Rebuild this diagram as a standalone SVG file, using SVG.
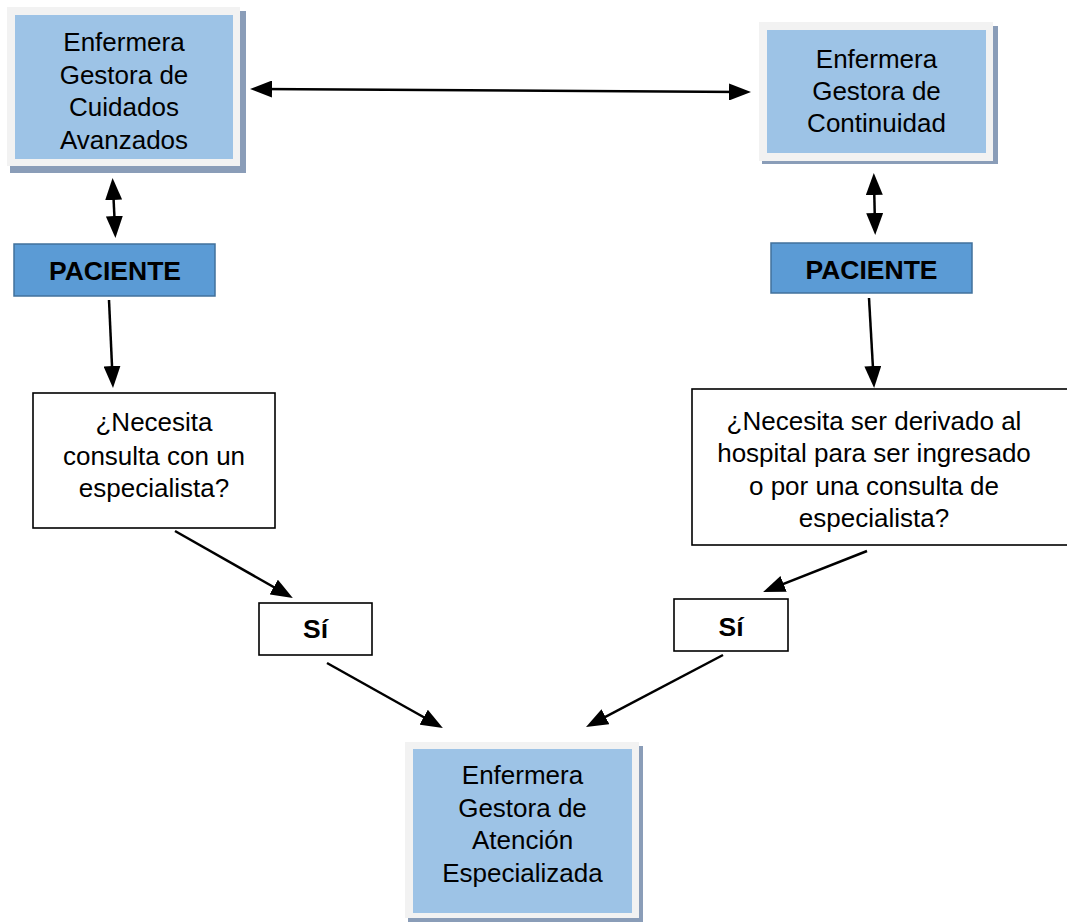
<svg xmlns="http://www.w3.org/2000/svg" width="1067" height="924" viewBox="0 0 1067 924">
  <style>
    .shadow { fill: #8a9db8; }
    .frame { fill: #f2f2f2; }
    .card { fill: #9dc3e6; }
    .patient { fill: #5b9bd5; stroke: #41719c; stroke-width: 1.5; }
    .box { fill: #ffffff; stroke: #000000; stroke-width: 1.6; }
    text { font-family: "Liberation Sans", Arial, sans-serif; font-size: 26px; fill: #000000; text-anchor: middle; }
    .bold { font-weight: bold; font-size: 26.5px; }
    .link { stroke: #000000; stroke-width: 2.5; fill: none; }
  </style>
  <defs>
    <marker id="arrow" markerUnits="userSpaceOnUse" viewBox="0 0 22 17" markerWidth="22" markerHeight="17" refX="13" refY="8.5" orient="auto-start-reverse">
      <path d="M0,0 L22,8.5 L0,17 z" fill="#000000"/>
    </marker>
  </defs>
  <rect width="1067" height="924" fill="#ffffff"/>

  <!-- Nurse: advanced care -->
  <g id="node-cuidados">
    <rect class="shadow" x="10" y="11" width="236" height="162"/>
    <rect class="frame" x="7" y="7" width="233" height="159"/>
    <rect class="card" x="15" y="15" width="218" height="144"/>
    <text x="124" y="51">Enfermera</text>
    <text x="124" y="83.5">Gestora de</text>
    <text x="124" y="116">Cuidados</text>
    <text x="124" y="148.5">Avanzados</text>
  </g>

  <!-- Nurse: continuity -->
  <g id="node-continuidad">
    <rect class="shadow" x="762" y="26" width="236" height="138"/>
    <rect class="frame" x="759" y="22" width="234" height="139"/>
    <rect class="card" x="767" y="30" width="219" height="123"/>
    <text x="876.5" y="68">Enfermera</text>
    <text x="876.5" y="100">Gestora de</text>
    <text x="876.5" y="132">Continuidad</text>
  </g>

  <!-- Patient boxes -->
  <g id="node-paciente-izq">
    <rect class="patient" x="14" y="244" width="201" height="52"/>
    <text class="bold" x="115" y="280">PACIENTE</text>
  </g>
  <g id="node-paciente-der">
    <rect class="patient" x="771" y="243" width="201" height="50"/>
    <text class="bold" x="871.5" y="278.5">PACIENTE</text>
  </g>

  <!-- Questions -->
  <g id="node-pregunta-izq">
    <rect class="box" x="33" y="393" width="242" height="135"/>
    <text x="154" y="431">¿Necesita</text>
    <text x="154" y="464.5">consulta con un</text>
    <text x="154" y="497">especialista?</text>
  </g>
  <g id="node-pregunta-der">
    <rect class="box" x="692" y="389" width="380" height="156"/>
    <text x="874" y="429.5">¿Necesita ser derivado al</text>
    <text x="874" y="462">hospital para ser ingresado</text>
    <text x="874" y="494.5">o por una consulta de</text>
    <text x="874" y="527">especialista?</text>
  </g>

  <!-- Yes boxes -->
  <g id="node-si-izq">
    <rect class="box" x="259" y="603" width="113" height="52"/>
    <text class="bold" x="315.5" y="638">Sí</text>
  </g>
  <g id="node-si-der">
    <rect class="box" x="674" y="599" width="114" height="52"/>
    <text class="bold" x="731" y="636">Sí</text>
  </g>

  <!-- Nurse: specialised care -->
  <g id="node-especializada">
    <rect class="shadow" x="408" y="746" width="235" height="176"/>
    <rect class="frame" x="405" y="742" width="234" height="176"/>
    <rect class="card" x="413" y="749" width="219" height="164"/>
    <text x="522.5" y="784">Enfermera</text>
    <text x="522.5" y="816.5">Gestora de</text>
    <text x="522.5" y="849">Atención</text>
    <text x="522.5" y="881.5">Especializada</text>
  </g>

  <!-- Connectors -->
  <g id="connectors">
    <line class="link" x1="259" y1="89" x2="742" y2="92" marker-start="url(#arrow)" marker-end="url(#arrow)"/>
    <line class="link" x1="113" y1="187" x2="115" y2="229" marker-start="url(#arrow)" marker-end="url(#arrow)"/>
    <line class="link" x1="874" y1="182" x2="875" y2="226" marker-start="url(#arrow)" marker-end="url(#arrow)"/>
    <line class="link" x1="109" y1="300" x2="112.6" y2="379" marker-end="url(#arrow)"/>
    <line class="link" x1="869" y1="298" x2="873.6" y2="379" marker-end="url(#arrow)"/>
    <line class="link" x1="175" y1="531" x2="285" y2="593.5" marker-end="url(#arrow)"/>
    <line class="link" x1="327" y1="663" x2="435" y2="723.5" marker-end="url(#arrow)"/>
    <line class="link" x1="867" y1="551" x2="771.5" y2="588.7" marker-end="url(#arrow)"/>
    <line class="link" x1="723" y1="655" x2="594" y2="722.8" marker-end="url(#arrow)"/>
  </g>
</svg>
